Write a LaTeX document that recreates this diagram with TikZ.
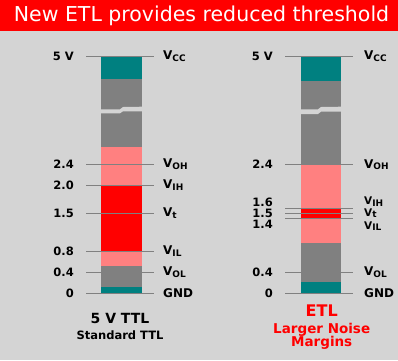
\documentclass[tikz,border=0pt]{standalone}
\usepackage{fontspec}
\setmainfont{DejaVu Sans}
\definecolor{bggray}{HTML}{D4D4D4}
\definecolor{bargray}{HTML}{808080}
\definecolor{barteal}{HTML}{008080}
\definecolor{barpink}{HTML}{FF8080}
\definecolor{barred}{HTML}{FF0000}
\newcommand{\vsub}[1]{V\raisebox{-1.5pt}{\fontsize{9}{9}\selectfont #1}}

\begin{document}
\begin{tikzpicture}[x=1pt,y=-1pt,
  tick/.style={bargray,line width=1pt},
  volt/.style={anchor=east,inner sep=0pt,font=\bfseries\fontsize{11.5}{12}\selectfont},
  lvl/.style={anchor=west,inner sep=0pt,font=\bfseries\fontsize{12}{13}\selectfont},
  tightlvl/.style={lvl,font=\bfseries\fontsize{10.5}{11}\selectfont}]
\useasboundingbox (0,0) rectangle (398,360);
\fill[bggray] (0,0) rectangle (398,360);
\fill[barred] (0,0) rectangle (398,31);
\node[white,font=\fontsize{20.5}{22}\selectfont] (title) at (201.5,16) {New ETL provides reduced threshold};

% standard TTL bar
\fill[barteal] (101,56.3) rectangle (142,79);
\fill[bargray] (101,79) rectangle (142,147);
\fill[barpink] (101,147) rectangle (142,185.3);
\fill[barred] (101,185.3) rectangle (142,251);
\fill[barpink] (101,251) rectangle (142,266);
\fill[bargray] (101,266) rectangle (142,287);
\fill[barteal] (101,287) rectangle (142,293.3);
\fill[bggray] (101,109.3) -- (120,109.3) -- (123,107) -- (142,106.7) -- (142,111.3) -- (123,111.3) -- (120,113.3) -- (101,113.3) -- cycle;

% ETL bar
\fill[barteal] (301,56.3) rectangle (341,81);
\fill[bargray] (301,81) rectangle (341,164.7);
\fill[barpink] (301,164.7) rectangle (341,208.3);
\fill[barred] (301,208.3) rectangle (341,218);
\fill[barpink] (301,218) rectangle (341,242.7);
\fill[bargray] (301,242.7) rectangle (341,281.7);
\fill[barteal] (301,281.7) rectangle (341,293.3);
\fill[bggray] (301,109.3) -- (318,109.3) -- (321,107) -- (341,106.7) -- (341,111.7) -- (321,111.7) -- (318,114) -- (301,114) -- cycle;

% levels of the standard TTL bar
\foreach \y/\v/\l [count=\i] in {56.3/5 V/\vsub{CC}, 164.3/2.4/\vsub{OH}, 185.3/2.0/\vsub{IH},
    213.3/1.5/\vsub{t}, 251/0.8/\vsub{IL}, 272.3/0.4/\vsub{OL}, 293.3/0/GND} {
  \draw[tick] (86,\y) -- (154,\y);
  \node[volt] (ttlv\i) at (74,\y) {\v};
  \node[lvl] (ttll\i) at (163,\y) {\l};
}

% levels of the ETL bar
\foreach \y/\l [count=\i] in {56.3/\vsub{CC}, 164.7/\vsub{OH}, 208.3/, 213/, 218/, 272.3/\vsub{OL}, 293.3/GND} {
  \draw[tick] (285,\y) -- (352.7,\y);
  \node[lvl] (etll\i) at (364,\y) {\l};
}
\foreach \y/\v [count=\i] in {56.3/5 V, 164.7/2.4, 202.3/1.6, 213/1.5, 224.5/1.4, 272.3/0.4, 293.3/0} {
  \node[volt] (etlv\i) at (273,\y) {\v};
}
\node[tightlvl] (etlih) at (364,201.8) {\vsub{IH}};
\node[tightlvl] (etlt) at (364,213) {\vsub{t}};
\node[tightlvl] (etlil) at (364,226) {\vsub{IL}};

\node[font=\bfseries\fontsize{14}{16}\selectfont] (ttlname) at (120,318) {5 V TTL};
\node[font=\bfseries\fontsize{11.5}{13}\selectfont] (ttlsub) at (120,335.7) {Standard TTL};
\node[barred,font=\bfseries\fontsize{16}{18}\selectfont] (etlname) at (321.7,311) {ETL};
\node[barred,font=\bfseries\fontsize{13.5}{15}\selectfont,align=center] (etlsub) at (321.7,336.5) {Larger Noise\\[-2pt]Margins};
\end{tikzpicture}
\end{document}
